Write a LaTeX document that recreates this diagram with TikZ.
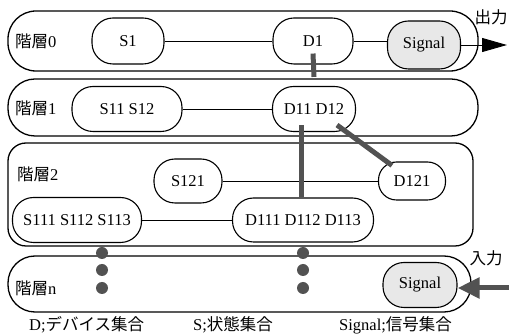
\documentclass[tikz,border=0pt]{standalone}
\usepackage{fontspec}
\setmainfont{Liberation Serif}
\newfontfamily\jp{Noto Sans CJK JP}
\usetikzlibrary{arrows.meta}
\begin{document}
\begin{tikzpicture}[x=1pt,y=-1pt,
  font=\fontsize{16.5}{19}\selectfont,
  layerbox/.style={draw, line width=1.3pt, inner sep=0pt},
  setbox/.style={draw, line width=1.1pt, inner sep=0pt, rounded corners=21pt,
    minimum height=45pt, fill=white},
  sigbox/.style={setbox, fill=gray!18},
  link/.style={line width=0.9pt},
  bar/.style={line width=5pt, draw=black!68},
  blob/.style={circle, fill=black!68, minimum size=12pt, inner sep=0pt},
  lbl/.style={anchor=west, inner sep=0pt}]
\useasboundingbox (0,0) rectangle (509,336);

% hierarchy layers
\node[layerbox, rounded corners=28pt, minimum width=470pt, minimum height=60pt] (L0) at (243,41) {};
\node[layerbox, rounded corners=27pt, minimum width=470pt, minimum height=57pt] (L1) at (243,107.5) {};
\node[layerbox, rounded corners=18pt, minimum width=465pt, minimum height=103pt] (L2) at (240.5,194.5) {};
\node[layerbox, rounded corners=27pt, minimum width=463pt, minimum height=56pt] (Ln) at (239.5,284) {};

\node[lbl] (t0) at (15,41) {{\jp 階層}0};
\node[lbl] (t1) at (15,108) {{\jp 階層}1};
\node[lbl] (t2) at (17,174) {{\jp 階層}2};
\node[lbl] (tn) at (15,288) {{\jp 階層}n};

% layer 0
\node[setbox, minimum width=72pt, minimum height=46pt] (S1) at (128,41) {S1};
\node[setbox, minimum width=80pt, minimum height=46pt] (D1) at (313,41) {D1};
\node[sigbox, minimum width=73pt, minimum height=48pt] (Sg0) at (424,45) {Signal};

% layer 1
\node[setbox, minimum width=110pt] (S11) at (127,109) {S11 S12};
\node[setbox, minimum width=83pt] (D11) at (314,109) {D11 D12};

% layer 2
\node[setbox, minimum width=68pt, minimum height=44pt] (S121) at (188,181) {S121};
\node[setbox, rounded corners=18pt, minimum width=67pt, minimum height=38pt] (D121) at (412,181) {D121};
\node[setbox, minimum width=129pt] (S111) at (77,220) {S111 S112 S113};
\node[setbox, minimum width=141pt, minimum height=44pt] (D111) at (303,220) {D111 D112 D113};

% layer n
\node[sigbox, minimum width=74pt] (Sgn) at (420,285) {Signal};

% state-to-device links
\draw[link] (S1.east) -- (D1.west);
\draw[link] (D1.east) -- (D1.east -| Sg0.west);
\draw[link] (S11.east) -- (D11.west);
\draw[link] (S121.east) -- (D121.west);
\draw[link] (S111.east) -- (D111.west);

% refinement bars between layers
\draw[bar] ([yshift=11pt]D1.south) -- ([yshift=9pt]D11.north);
\draw[bar] ([xshift=-13pt,yshift=7pt]D11.south) -- ([xshift=-2pt]D111.north);
\draw[bar] ([xshift=23pt,yshift=7pt]D11.south) -- ([xshift=-20pt,yshift=-4pt]D121.north);

% ellipsis dots
\foreach \i/\y in {1/253,2/270,3/288} {
  \node[blob] (a\i) at (102,\y) {};
  \node[blob] (b\i) at (303,\y) {};
}

% output and input
\coordinate (out) at (507,44);
\draw[link, -{Triangle[length=25pt,width=14pt]}] (Sg0.east) -- (Sg0.east -| out);
\node (outl) at (491,17) {\jp 出力};
\coordinate (in) at (509,288);
\draw[bar, -{Triangle[length=22pt,width=20pt]}] (in) -- (in -| Sgn.east);
\node (inl) at (486,258) {\jp 入力};

% legend
\node[lbl] (k1) at (29,325) {D;{\jp デバイス集合}};
\node[lbl] (k2) at (193,325) {S;{\jp 状態集合}};
\node[lbl] (k3) at (339,325) {Signal;{\jp 信号集合}};
\end{tikzpicture}
\end{document}
